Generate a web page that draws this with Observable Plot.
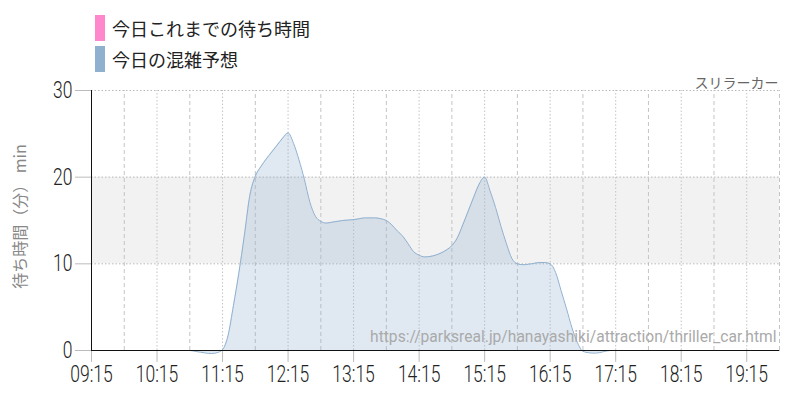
<!DOCTYPE html>
<html><head><meta charset="utf-8">
<script src="https://cdn.jsdelivr.net/npm/d3@7"></script>
<script src="https://cdn.jsdelivr.net/npm/@observablehq/plot@0.6"></script>
<style>
body{margin:0;background:#fff;}
#wrap{position:relative;width:800px;height:400px;}
#wrap svg{position:absolute;left:0;top:0;}
.legend{position:absolute;left:95px;font-family:"Noto Sans CJK JP";font-size:18px;color:#222;display:flex;align-items:center;line-height:26px;z-index:2;}
.sw{display:inline-block;width:10px;height:26px;margin-right:7px;}
</style></head><body>
<div id="wrap">
 <div class="legend" style="top:15px"><span class="sw" style="background:#ff88cc"></span>今日これまでの待ち時間</div>
 <div class="legend" style="top:46px"><span class="sw" style="background:#8fb0cf"></span>今日の混雑予想</div>
</div>
<script>
const times = ["09:15","09:45","10:15",
  "10:45","10:50","10:55","11:00","11:05","11:10","11:15","11:20","11:25","11:30","11:35","11:40",
  "11:45","11:50","11:55","12:00","12:05","12:10","12:15","12:20","12:25","12:30","12:35","12:40",
  "12:45","12:50","12:55","13:00","13:05","13:10","13:15","13:20","13:25","13:30","13:35","13:40",
  "13:45","13:50","13:55","14:00","14:05","14:10","14:15","14:20","14:25","14:30","14:35","14:40",
  "14:45","14:50","14:55","15:00","15:05","15:10","15:15","15:20","15:25","15:30","15:35","15:40",
  "15:45","15:50","15:55","16:00","16:05","16:10","16:15","16:20","16:25","16:30","16:35","16:40",
  "16:45","16:50","16:55","17:00","17:05","17:10","17:15",
  "17:45","18:15","18:45","19:15","19:45"];
const forecast = [0,0,0,
  0,-0.1,-0.2,-0.3,-0.35,-0.25,0.1,1.7,5.2,9.0,13.3,17.9,
  20.1,21.2,22.1,22.9,23.7,24.5,25.1,23.9,22.0,19.7,17.1,15.5,
  14.9,14.7,14.8,14.9,15.0,15.05,15.1,15.2,15.3,15.3,15.3,15.2,
  15.0,14.5,13.8,13.2,12.3,11.4,11.0,10.8,10.85,11.0,11.25,11.6,
  12.1,13.0,14.5,16.1,17.7,19.2,20.0,18.4,16.5,14.3,12.3,10.6,
  10.0,9.9,9.95,10.05,10.15,10.15,10.0,9.0,6.9,4.8,2.6,0.9,
  -0.1,-0.25,-0.3,-0.25,-0.1,0,0,
  0,0,0,0,0];
const xTickLabels = ["09:15","10:15","11:15","12:15","13:15","14:15","15:15","16:15","17:15","18:15","19:15"];
const halfHourLines = ["09:45","10:45","11:45","12:45","13:45","14:45","15:45","16:45","17:45","18:45","19:45"];
const yTicks = [0,10,20,30];
const bandRange = [10,20];
const yLabel = "待ち時間（分） min";
const attraction = "スリラーカー";
const sourceUrl = "https://parksreal.jp/hanayashiki/attraction/thriller_car.html";

const toMin = s => { const [h,m] = s.split(":").map(Number); return h*60+m; };
const fmt = m => String(Math.floor(m/60)).padStart(2,"0")+":"+String(m%60).padStart(2,"0");
const data = times.map((t,i)=>({t:toMin(t), v:forecast[i]}));
const x0 = toMin(times[0]), x1 = toMin(times[times.length-1]);
const curveOpts = {curve:"monotone-x"};

const chart = Plot.plot({
  width:800, height:400, marginTop:90, marginBottom:50, marginLeft:91, marginRight:21,
  style:{fontFamily:"Roboto, sans-serif", fontSize:"23px", color:"#222", background:"transparent"},
  x:{domain:[x0,x1], type:"linear"},
  y:{domain:[0,30]},
  marks:[
    Plot.rect([{a:x0,b:x1,lo:bandRange[0],hi:bandRange[1]}], {x1:"a", x2:"b", y1:"lo", y2:"hi", fill:"#f2f2f2"}),
    Plot.ruleX(halfHourLines.map(toMin), {stroke:"#c4c4c4", strokeDasharray:"4,3", y1:0, y2:30}),
    Plot.ruleX(xTickLabels.map(toMin), {stroke:"#c4c4c4", strokeDasharray:"1.5,2", y1:0, y2:30}),
    Plot.ruleY(yTicks.filter(d=>d>0), {stroke:"#b8b8b8", strokeDasharray:"1.5,2"}),
    Plot.areaY(data, {x:"t", y:"v", ...curveOpts, fill:"#8fb0cf", fillOpacity:0.28}),
    Plot.lineY(data, {x:"t", y:"v", ...curveOpts, stroke:"#8fb0cf", strokeWidth:1}),
    Plot.axisX(xTickLabels.map(toMin), {tickFormat:fmt, tickSize:12, tickPadding:3, stroke:"#bbb", fill:"#222", fontSize:23, fontWeight:300, label:null}),
    Plot.axisY(yTicks, {tickSize:16, tickPadding:3, stroke:"#bbb", fill:"#222", fontSize:23, fontWeight:300, label:null}),
    Plot.ruleY([0], {stroke:"#111", strokeWidth:1.2}),
    Plot.ruleX([x0], {stroke:"#111", y1:0, y2:30}),
    Plot.text([yLabel], {frameAnchor:"left", textAnchor:"middle", rotate:-90, dx:-71, dy:-4, fill:"#888", fontSize:16, fontFamily:"'Noto Sans CJK JP'"}),
    Plot.text([attraction], {frameAnchor:"top-right", textAnchor:"end", dx:-1, dy:-12, fill:"#666", fontSize:14, fontFamily:"'Noto Sans CJK JP'"}),
    Plot.text([sourceUrl], {frameAnchor:"bottom-right", textAnchor:"end", dx:-3, dy:-9, fill:"#aaa", fontSize:15.6, fontFamily:"Roboto"})
  ]
});
document.getElementById("wrap").appendChild(chart);
// condense the tick labels horizontally (reference uses a condensed face)
d3.select(chart).selectAll('g[aria-label="x-axis tick label"] text, g[aria-label="y-axis tick label"] text').each(function(){
  const w = this.getComputedTextLength();
  if (w > 0) {
    this.setAttribute("textLength", (w*0.76).toFixed(2));
    this.setAttribute("lengthAdjust", "spacingAndGlyphs");
  }
});
</script>
</body></html>
